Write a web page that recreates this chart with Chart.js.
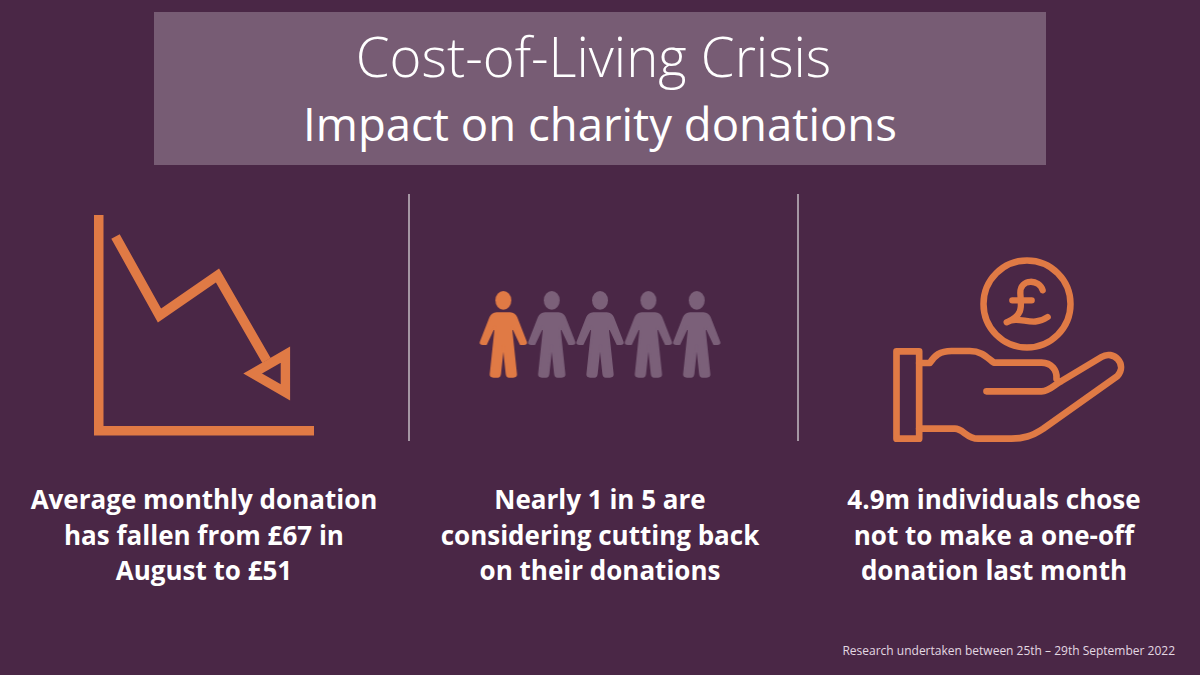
<!DOCTYPE html>
<html lang="en">
<head>
<meta charset="utf-8">
<title>Cost-of-Living Crisis</title>
<script src="https://cdn.jsdelivr.net/npm/chart.js@4"></script>
<style>
html, body { margin: 0; padding: 0; }
body { width: 1200px; height: 675px; overflow: hidden; background: #4a2746; position: relative; font-family: "Open Sans", sans-serif; color: #fff; }
.banner { position: absolute; left: 154px; top: 12px; width: 892px; height: 153px; background: #775c74; text-align: center; }
.title { position: absolute; left: 0; width: 879px; top: 13px; font-size: 54.5px; line-height: 62px; font-weight: 300; }
.subtitle { position: absolute; left: 0; width: 892px; top: 80px; font-size: 45.5px; line-height: 62px; font-weight: 400; }
.divider { position: absolute; top: 194px; width: 2px; height: 247px; background: #a596a3; }
.caption { position: absolute; top: 482px; width: 380px; text-align: center; font-size: 26px; line-height: 35.5px; font-weight: 700; }
.source { position: absolute; right: 25px; top: 642px; font-size: 12px; line-height: 18px; color: #e3d8e2; }
canvas { position: absolute; display: block; }
</style>
</head>
<body>
<div class="banner">
  <div class="title">Cost-of-Living Crisis</div>
  <div class="subtitle">Impact on charity donations</div>
</div>
<div class="divider" style="left:408px"></div>
<div class="divider" style="left:797px"></div>

<canvas id="trendChart" width="250" height="250" style="left:78px;top:200px"></canvas>
<canvas id="peopleChart" width="260" height="110" style="left:470px;top:279px"></canvas>
<canvas id="handChart" width="260" height="200" style="left:880px;top:250px"></canvas>

<div class="caption" style="left:14px">Average monthly donation<br>has fallen from £67 in<br>August to £51</div>
<div class="caption" style="left:410px">Nearly 1 in 5 are<br>considering cutting back<br>on their donations</div>
<div class="caption" style="left:804px">4.9m individuals chose<br>not to make a one-off<br>donation last month</div>
<div class="source">Research undertaken between 25th – 29th September 2022</div>

<script>
// Colours
const ORANGE = '#e07a45';
const MUTED = '#7b6079';

// Falling line icon
const trendX = [17, 61, 119, 168];
const trendY = [194, 115, 155, 70];
const arrowX = [176];
const arrowY = [57];

// 1 in 5 people
const peopleLabels = ['1', '2', '3', '4', '5'];
const peopleRow = [1, 1, 1, 1, 1];
const peopleHighlighted = [true, false, false, false, false];

// Coin and hand icon positions
const coinX = [147];
const coinY = [146];
const handX = [129];
const handY = [55];

Chart.defaults.animation = false;

const hiddenPlugins = { legend: { display: false }, tooltip: { enabled: false } };

// person pictogram, path units are 1/3 px
function makePerson(color) {
    const c = document.createElement('canvas');
    c.width = 52;
    c.height = 92;
    const g = c.getContext('2d');
    g.translate(26, 46);
    g.scale(1 / 3, 1 / 3);
    g.translate(0, -161);
    g.fillStyle = color;
    g.strokeStyle = color;
    g.lineWidth = 6;
    g.lineJoin = 'round';
    g.beginPath();
    g.ellipse(0, 60, 24, 28, 0, 0, Math.PI * 2);
    g.fill();
    g.beginPath();
    g.moveTo(-20, 99);
    g.lineTo(20, 99);
    g.quadraticCurveTo(34, 100, 39, 112);
    g.lineTo(68, 186);
    g.quadraticCurveTo(69, 191, 62, 191);
    g.lineTo(52, 191);
    g.lineTo(27, 138);
    g.lineTo(24, 150);
    g.lineTo(38, 282);
    g.quadraticCurveTo(38, 289, 30, 289);
    g.lineTo(17, 289);
    g.quadraticCurveTo(11, 289, 10, 280);
    g.lineTo(1, 196);
    g.lineTo(-1, 196);
    g.lineTo(-10, 280);
    g.quadraticCurveTo(-11, 289, -17, 289);
    g.lineTo(-30, 289);
    g.quadraticCurveTo(-38, 289, -38, 282);
    g.lineTo(-24, 150);
    g.lineTo(-27, 138);
    g.lineTo(-52, 191);
    g.lineTo(-62, 191);
    g.quadraticCurveTo(-69, 191, -68, 186);
    g.lineTo(-39, 112);
    g.quadraticCurveTo(-34, 100, -20, 99);
    g.closePath();
    g.fill();
    g.stroke();
    return c;
}

// open hand outline
function makeHand() {
    const c = document.createElement('canvas');
    c.width = 240;
    c.height = 104;
    const g = c.getContext('2d');
    g.translate(120, 52);
    g.scale(1 / 3, 1 / 3);
    g.translate(-387.5, -404);
    g.strokeStyle = ORANGE;
    g.lineWidth = 20;
    g.lineJoin = 'round';
    g.lineCap = 'round';
    g.strokeRect(50, 273, 68, 262);
    g.beginPath();
    g.moveTo(118, 308);
    g.lineTo(150, 308);
    g.bezierCurveTo(165, 285, 180, 272, 215, 272);
    g.lineTo(270, 272);
    g.bezierCurveTo(305, 272, 320, 290, 342, 307);
    g.lineTo(485, 307);
    g.bezierCurveTo(515, 307, 532, 330, 530, 355);
    g.moveTo(320, 393);
    g.lineTo(485, 393);
    g.bezierCurveTo(510, 393, 520, 375, 545, 362);
    g.lineTo(665, 290);
    g.bezierCurveTo(700, 268, 745, 310, 712, 348);
    g.lineTo(490, 505);
    g.bezierCurveTo(455, 528, 430, 535, 395, 535);
    g.lineTo(295, 535);
    g.bezierCurveTo(260, 535, 250, 505, 225, 505);
    g.lineTo(118, 505);
    g.stroke();
    return c;
}

// pound sign drawn with the same rounded stroke as the icon
function makePound() {
    const c = document.createElement('canvas');
    c.width = 60;
    c.height = 60;
    const g = c.getContext('2d');
    g.translate(30, 30);
    g.scale(1 / 3, 1 / 3);
    g.translate(-441, -133);
    g.strokeStyle = ORANGE;
    g.lineWidth = 19;
    g.lineJoin = 'round';
    g.lineCap = 'round';
    g.beginPath();
    g.moveTo(488, 92);
    g.bezierCurveTo(480, 58, 420, 55, 421, 100);
    g.bezierCurveTo(422, 135, 435, 165, 380, 188);
    g.bezierCurveTo(420, 165, 455, 205, 503, 172);
    g.moveTo(397, 122);
    g.lineTo(455, 122);
    g.stroke();
    return c;
}

new Chart(document.getElementById('trendChart'), {
    type: 'scatter',
    data: {
        datasets: [{
            data: trendX.map((x, i) => ({ x: x, y: trendY[i] })),
            showLine: true,
            borderColor: ORANGE,
            borderWidth: 9.6,
            borderCapStyle: 'butt',
            borderJoinStyle: 'miter',
            pointRadius: 0,
            tension: 0,
            clip: false
        }, {
            data: arrowX.map((x, i) => ({ x: x, y: arrowY[i] })),
            pointStyle: 'triangle',
            rotation: -90,
            pointRadius: 21.8,
            pointBorderWidth: 9.4,
            pointBorderColor: ORANGE,
            pointBackgroundColor: 'rgba(0,0,0,0)',
            clip: false
        }]
    },
    options: {
        responsive: false,
        layout: { autoPadding: false, padding: { left: 20.5, right: 15, top: 20, bottom: 19.5 } },
        plugins: hiddenPlugins,
        scales: {
            x: { min: 0, max: 214.5, grid: { display: false, drawTicks: false }, ticks: { display: false }, border: { color: ORANGE, width: 9.5 } },
            y: { min: 0, max: 210.5, grid: { display: false, drawTicks: false }, ticks: { display: false }, border: { color: ORANGE, width: 9.5 } }
        }
    }
});

new Chart(document.getElementById('peopleChart'), {
    type: 'line',
    data: {
        labels: peopleLabels,
        datasets: [{
            data: peopleRow,
            showLine: false,
            pointStyle: peopleHighlighted.map(on => makePerson(on ? ORANGE : MUTED)),
            clip: false
        }]
    },
    options: {
        responsive: false,
        layout: { autoPadding: false, padding: { left: 9.2, right: 9.1 } },
        plugins: hiddenPlugins,
        scales: {
            x: { display: false, offset: true },
            y: { display: false, min: 0, max: 2 }
        }
    }
});

new Chart(document.getElementById('handChart'), {
    type: 'scatter',
    data: {
        datasets: [{
            data: [{ x: coinX[0], y: coinY[0] }],
            pointStyle: 'circle',
            pointRadius: 43.5,
            pointBorderWidth: 6.5,
            pointBorderColor: ORANGE,
            pointBackgroundColor: 'rgba(0,0,0,0)',
            clip: false
        }, {
            data: [{ x: coinX[0], y: coinY[0] }],
            pointStyle: makePound(),
            clip: false
        }, {
            data: [{ x: handX[0], y: handY[0] }],
            pointStyle: makeHand(),
            clip: false
        }]
    },
    options: {
        responsive: false,
        layout: { autoPadding: false },
        plugins: hiddenPlugins,
        scales: {
            x: { display: false, min: 0, max: 260 },
            y: { display: false, min: 0, max: 200 }
        }
    }
});
</script>
</body>
</html>
